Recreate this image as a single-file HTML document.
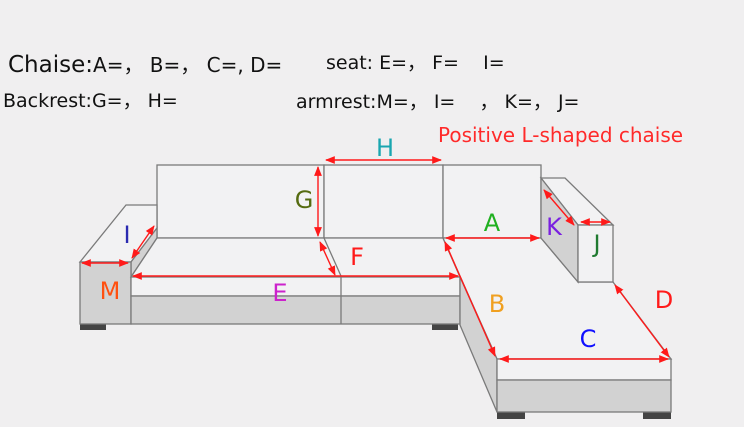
<!DOCTYPE html>
<html><head><style>
body{margin:0;background:#f0eff0;}
svg{display:block}
text{font-family:"DejaVu Sans","Liberation Sans",sans-serif;}
</style></head><body>
<svg width="744" height="427" viewBox="0 0 744 427" xmlns="http://www.w3.org/2000/svg">
<defs>
<marker id="a" viewBox="0 0 10 10" refX="9" refY="5" markerWidth="7" markerHeight="7" orient="auto-start-reverse"><path d="M0,1 L10,5 L0,9 z" fill="#ff1a1a"/></marker>
</defs>
<rect width="744" height="427" fill="#f0eff0"/>
<g stroke="#7a7a7a" stroke-width="1.3" fill="#f2f2f3">
<rect x="80" y="324" width="26" height="6" fill="#444" stroke="none"/>
<rect x="432" y="324" width="26" height="6" fill="#444" stroke="none"/>
<rect x="497" y="412" width="28" height="7" fill="#444" stroke="none"/>
<rect x="643" y="412" width="28" height="7" fill="#444" stroke="none"/>
<rect x="157" y="165" width="167" height="73"/>
<rect x="324" y="165" width="119" height="73"/>
<rect x="443" y="165" width="98" height="73"/>
<polygon points="80,262 126,205 157,205 157,228 131,262"/>
<polygon points="131,262 157,228 157,238 131,277" fill="#d2d2d2"/>
<rect x="80" y="262" width="51" height="62" fill="#d2d2d2"/>
<polygon points="131,277 157,238 443,238 460,277"/>
<line x1="324" y1="238" x2="341" y2="276"/>
<rect x="131" y="277" width="329" height="19"/>
<rect x="131" y="296" width="329" height="28" fill="#d2d2d2"/>
<line x1="341" y1="277" x2="341" y2="324"/>
<polygon points="443,238 541,238 578,282 613,282 671,359 497,359"/>
<polygon points="460,277 497,359 497,412 460,325" fill="#d2d2d2"/>
<rect x="497" y="359" width="174" height="21"/>
<rect x="497" y="380" width="174" height="32" fill="#d2d2d2"/>
<polygon points="541,178 565,178 613,225 578,225"/>
<polygon points="541,178 578,225 578,282 541,238" fill="#d2d2d2"/>
<rect x="578" y="225" width="35" height="57"/>
</g>
<g stroke="#ff1a1a" stroke-width="1.4" marker-start="url(#a)" marker-end="url(#a)">
<line x1="326" y1="160" x2="441" y2="160"/>
<line x1="318" y1="167" x2="318" y2="236"/>
<line x1="132" y1="258" x2="154" y2="226"/>
<line x1="82" y1="263" x2="128" y2="263"/>
<line x1="320" y1="242" x2="335" y2="275"/>
<line x1="133" y1="276" x2="458" y2="276"/>
<line x1="446" y1="238" x2="539" y2="238"/>
<line x1="544" y1="190" x2="574" y2="225"/>
<line x1="581" y1="222" x2="610" y2="222"/>
<line x1="445" y1="242" x2="495" y2="356"/>
<line x1="500" y1="359" x2="668" y2="359"/>
<line x1="615" y1="285" x2="669" y2="357"/>
</g>
<g font-size="24" text-anchor="middle">
<text x="385" y="156" fill="#1aa6b0">H</text>
<text x="304" y="208" fill="#556b10">G</text>
<text x="127" y="243" fill="#2a2ab0">I</text>
<text x="110" y="299" fill="#ff5010">M</text>
<text x="280" y="301" fill="#cc22cc">E</text>
<text x="357" y="265" fill="#ff1a1a">F</text>
<text x="492" y="231" fill="#20b020">A</text>
<text x="554" y="235" fill="#7a20e0">K</text>
<text x="597" y="252" fill="#207a30">J</text>
<text x="497" y="312" fill="#f0a020">B</text>
<text x="588" y="347" fill="#1010ff">C</text>
<text x="664" y="308" fill="#ff1a1a">D</text>
</g>
<g fill="#111">
<text x="8" y="72" font-size="23">Chaise:<tspan font-size="20">A=， B=， C=, D=</tspan></text>
<text x="326" y="69" font-size="19">seat: E=， F=&#160;&#160;&#160;&#160;I=</text>
<text x="3" y="107" font-size="19">Backrest:G=， H=</text>
<text x="296" y="108" font-size="19">armrest:M=， I=&#160;&#160;&#160;&#160;， K=， J=</text>
</g>
<text x="438" y="142" font-size="20" fill="#ff2a2a">Positive L-shaped chaise</text>
</svg>
</body></html>
